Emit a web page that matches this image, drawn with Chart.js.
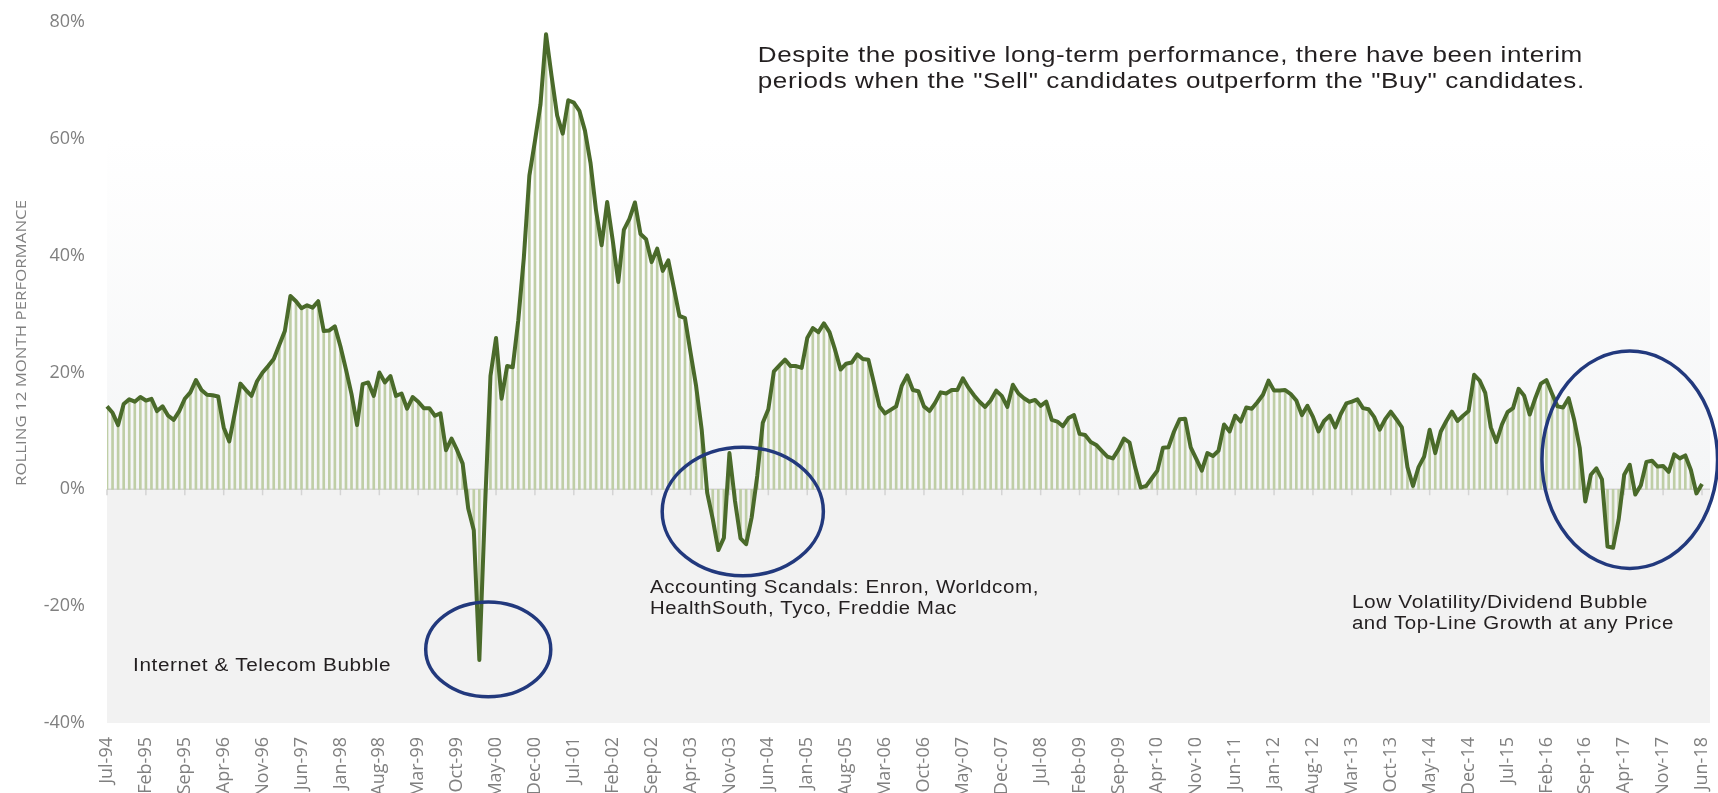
<!DOCTYPE html>
<html>
<head>
<meta charset="utf-8">
<title>Rolling 12 Month Performance</title>
<script src="https://cdn.jsdelivr.net/npm/chart.js@4.4.1/dist/chart.umd.min.js"></script>
<style>
    html, body { margin: 0; padding: 0; background: #ffffff; }
    #wrap { width: 1718px; height: 793px; }
</style>
</head>
<body>
<div id="wrap"><canvas id="graficaRolling" width="1718" height="793"></canvas></div>
<script>
// Meses para las etiquetas del eje x (Jul-94 ... Jun-18)
const monthNames = ["Jan", "Feb", "Mar", "Apr", "May", "Jun", "Jul", "Aug", "Sep", "Oct", "Nov", "Dec"];
const firstMonth = 6;      // Jul
const firstYear = 1994;
const labelEvery = 7;      // una etiqueta cada 7 meses

// Rolling 12 month performance (%), una fila = 12 meses
const rolling12m = [
    14.2, 13.1, 11.0, 14.6, 15.4, 15.0, 15.8, 15.2, 15.5, 13.4, 14.2, 12.6,   // Jul-94
    11.9, 13.4, 15.5, 16.6, 18.7, 17.0, 16.2, 16.1, 15.9, 10.6, 8.2, 13.1,    // Jul-95
    18.1, 17.0, 16.0, 18.5, 20.0, 21.1, 22.3, 24.7, 27.1, 33.1, 32.2, 31.0,   // Jul-96
    31.5, 31.1, 32.2, 27.1, 27.2, 27.9, 24.5, 20.5, 16.3, 11.0, 18.0, 18.3,   // Jul-97
    16.0, 20.0, 18.3, 19.4, 16.0, 16.4, 13.8, 15.8, 15.0, 13.9, 13.9, 12.6,   // Jul-98
    13.0, 6.7, 8.7, 6.7, 4.4, -3.3, -7.0, -29.2, -3.5, 19.4, 25.9, 15.5,      // Jul-99
    21.1, 20.9, 28.9, 39.6, 53.7, 59.6, 65.9, 77.9, 70.7, 64.0, 60.9, 66.6,   // Jul-00
    66.2, 64.8, 61.4, 55.9, 47.7, 41.8, 49.2, 42.6, 35.5, 44.4, 46.3, 49.1,   // Jul-01
    43.7, 42.8, 38.9, 41.2, 37.4, 39.2, 34.5, 29.7, 29.3, 23.4, 17.7, 10.3,   // Jul-02
    -0.6, -5.1, -10.4, -8.3, 6.2, -2.0, -8.4, -9.4, -4.8, 2.3, 11.4, 13.7,    // Jul-03
    20.2, 21.2, 22.2, 21.1, 21.1, 20.8, 25.9, 27.6, 26.9, 28.4, 26.9, 23.9,   // Jul-04
    20.5, 21.5, 21.7, 23.1, 22.3, 22.2, 18.2, 14.2, 13.0, 13.6, 14.2, 17.7,   // Jul-05
    19.5, 17.0, 16.8, 14.2, 13.4, 14.8, 16.6, 16.4, 17.0, 17.0, 19.0, 17.4,   // Jul-06
    16.1, 15.0, 14.1, 15.2, 16.9, 16.0, 14.1, 17.9, 16.4, 15.6, 15.0, 15.3,   // Jul-07
    14.3, 15.0, 11.9, 11.6, 10.8, 12.2, 12.7, 9.5, 9.3, 8.1, 7.6, 6.6,        // Jul-08
    5.6, 5.3, 6.8, 8.7, 8.0, 3.8, 0.3, 0.6, 1.9, 3.2, 7.1, 7.2,               // Jul-09
    9.9, 12.0, 12.1, 7.2, 5.2, 3.2, 6.2, 5.7, 6.6, 11.1, 9.9, 12.6,           // Jul-10
    11.6, 14.0, 13.8, 14.9, 16.2, 18.6, 16.9, 16.9, 17.0, 16.3, 15.2, 12.7,   // Jul-11
    14.3, 12.4, 9.9, 11.7, 12.6, 10.6, 12.9, 14.7, 15.0, 15.4, 13.9, 13.7,    // Jul-12
    12.4, 10.2, 12.0, 13.3, 12.0, 10.6, 3.8, 0.6, 3.8, 5.6, 10.2, 6.2,        // Jul-13
    9.9, 11.7, 13.3, 11.7, 12.6, 13.4, 19.6, 18.6, 16.5, 10.6, 8.1, 11.1,     // Jul-14
    13.2, 13.9, 17.2, 16.0, 12.8, 15.6, 18.1, 18.7, 16.4, 14.2, 14.0, 15.6,   // Jul-15
    11.9, 7.1, -2.1, 2.5, 3.6, 1.7, -9.8, -10.0, -5.2, 2.5, 4.2, -0.9,        // Jul-16
    0.7, 4.7, 4.9, 3.9, 4.0, 3.0, 6.0, 5.3, 5.8, 3.3, -0.7, 0.9               // Jul-17
];

const yTicks = { min: -40, max: 80, step: 20 };

// Notas y circulos (x = indice de mes, y = valor en %)
const notes = [
    { text: "Despite the positive long-term performance, there have been interim", x: 117.1, y: 74.2, size: 22, width: 825 },
    { text: "periods when the \"Sell\" candidates outperform the \"Buy\" candidates.", x: 117.1, y: 69.8, size: 22, width: 827 },
    { text: "Internet & Telecom Bubble", x: 4.7, y: -30.3, size: 18, width: 258 },
    { text: "Accounting Scandals: Enron, Worldcom,", x: 97.7, y: -17.0, size: 17.5, width: 389 },
    { text: "HealthSouth, Tyco, Freddie Mac", x: 97.7, y: -20.5, size: 17.5, width: 307 },
    { text: "Low Volatility/Dividend Bubble", x: 224.0, y: -19.4, size: 18, width: 296 },
    { text: "and Top-Line Growth at any Price", x: 224.0, y: -23.1, size: 18, width: 322 }
];
const circles = [
    { x: 68.6, y: -27.4, rx: 11.25, ry: 8.1 },
    { x: 114.4, y: -3.8, rx: 14.5, ry: 11.0 },
    { x: 274.0, y: 5.06, rx: 15.8, ry: 18.6 }
];

// etiquetas de meses
const labels = [];
for (let i = 0; i < rolling12m.length; i++) {
    const m = (firstMonth + i) % 12;
    const yr = firstYear + Math.floor((firstMonth + i) / 12);
    labels.push(monthNames[m] + "-" + String(yr).slice(2));
}

// dibuja texto estirado a lo ancho para parecerse al original
function drawFitted(ctx, text, x, y, width, align) {
    const w = ctx.measureText(text).width;
    ctx.save();
    ctx.translate(x, y);
    ctx.scale(width / w, 1);
    ctx.textAlign = align || "left";
    ctx.fillText(text, 0, 0);
    ctx.restore();
}

const plotBackground = {
    id: "plotBackground",
    beforeDatasetsDraw(chart) {
        const ctx = chart.ctx;
        const area = chart.chartArea;
        const x = chart.scales.x;
        const y0 = chart.scales.y.getPixelForValue(0);
        const left = area.left;
        const right = area.right + 8;

        const grad = ctx.createLinearGradient(0, area.top, 0, y0);
        grad.addColorStop(0, "#ffffff");
        grad.addColorStop(0.25, "#ffffff");
        grad.addColorStop(1, "#f4f5f6");

        ctx.save();
        ctx.fillStyle = grad;
        ctx.fillRect(left, area.top, right - left, y0 - area.top);
        ctx.fillStyle = "#f2f2f2";
        ctx.fillRect(left, y0, right - left, area.bottom - y0);

        // linea del cero y marcas cada 7 meses
        ctx.strokeStyle = "#d4d4d4";
        ctx.lineWidth = 1.5;
        ctx.beginPath();
        ctx.moveTo(left, y0);
        ctx.lineTo(right, y0);
        for (let i = 0; i < rolling12m.length; i += labelEvery) {
            const px = x.getPixelForValue(i);
            ctx.moveTo(px, y0);
            ctx.lineTo(px, y0 + 6);
        }
        ctx.stroke();
        ctx.restore();
    }
};

const notesLayer = {
    id: "notesLayer",
    afterDatasetsDraw(chart) {
        const ctx = chart.ctx;
        const x = chart.scales.x;
        const y = chart.scales.y;
        const unitX = x.getPixelForValue(1) - x.getPixelForValue(0);
        const unitY = y.getPixelForValue(0) - y.getPixelForValue(1);

        ctx.save();
        ctx.strokeStyle = "#22397d";
        ctx.lineWidth = 3.5;
        circles.forEach(function (c) {
            ctx.beginPath();
            ctx.ellipse(x.getPixelForValue(c.x), y.getPixelForValue(c.y), c.rx * unitX, c.ry * unitY, 0, 0, Math.PI * 2);
            ctx.stroke();
        });

        ctx.fillStyle = "#231f20";
        ctx.textBaseline = "middle";
        ctx.letterSpacing = "0.5px";
        notes.forEach(function (n) {
            ctx.font = n.size + "px 'Liberation Sans', Arial, sans-serif";
            drawFitted(ctx, n.text, x.getPixelForValue(n.x), y.getPixelForValue(n.y), n.width);
        });
        ctx.letterSpacing = "0px";

        // titulo del eje y
        ctx.fillStyle = "#808080";
        ctx.font = "15px 'Open Sans', sans-serif";
        ctx.translate(22, 343);
        ctx.rotate(-Math.PI / 2);
        drawFitted(ctx, "ROLLING 12 MONTH PERFORMANCE", 0, 0, 286, "center");
        ctx.restore();
    }
};

new Chart(document.getElementById("graficaRolling"), {
    type: "bar",
    data: {
        labels: labels,
        datasets: [
            {
                type: "line",
                data: rolling12m,
                borderColor: "#4a6a2a",
                borderWidth: 4,
                borderJoinStyle: "round",
                pointRadius: 0,
                tension: 0,
                order: 0
            },
            {
                type: "bar",
                data: rolling12m,
                backgroundColor: "#bfcea6",
                barThickness: 2,
                order: 1
            }
        ]
    },
    options: {
        responsive: false,
        animation: false,
        layout: { padding: { top: 22, right: 16, left: 0, bottom: 0 } },
        plugins: {
            legend: { display: false },
            tooltip: { enabled: false }
        },
        scales: {
            x: {
                offset: false,
                grid: { display: false, drawTicks: true, tickLength: 11 },
                border: { display: false },
                ticks: {
                    autoSkip: false,
                    maxRotation: 90,
                    minRotation: 90,
                    padding: 3,
                    color: "#808080",
                    font: { family: "'Open Sans', sans-serif", size: 18 },
                    callback: function (value, index) {
                        return index % labelEvery === 0 ? this.getLabelForValue(value) : "";
                    }
                },
                afterFit: function (scale) {
                    scale.height = 70;
                    scale.paddingRight = 0;   // la ultima etiqueta puede quedar pegada al borde
                }
            },
            y: {
                min: yTicks.min,
                max: yTicks.max,
                grid: { display: false, drawTicks: true, tickLength: 19 },
                border: { display: false },
                ticks: {
                    stepSize: yTicks.step,
                    padding: 3,
                    color: "#808080",
                    font: { family: "'Open Sans', sans-serif", size: 18 },
                    callback: function (value) { return value + "%"; }
                },
                afterFit: function (scale) { scale.width = 107; }
            }
        }
    },
    plugins: [plotBackground, notesLayer]
});
</script>
</body>
</html>
